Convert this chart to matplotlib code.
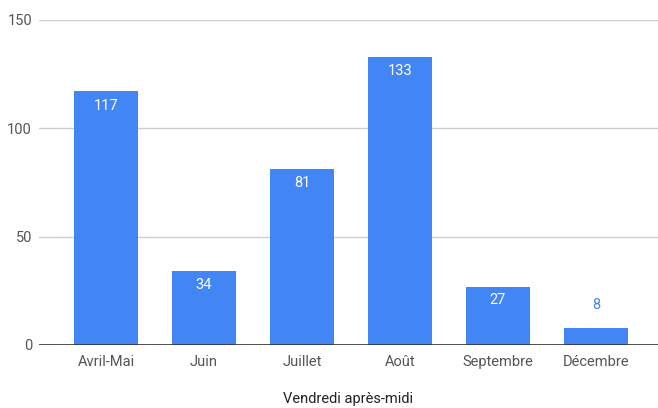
import numpy as np
import matplotlib.pyplot as plt

plt.rcParams['font.family'] = ['Roboto', 'DejaVu Sans']

# data
categories = ["Avril-Mai", "Juin", "Juillet", "Août", "Septembre", "Décembre"]
values = [117, 34, 81, 133, 27, 8]
y_ticks = [0, 50, 100, 150]
x_title = "Vendredi après-midi"

bar_color = "#4285F4"
px = 72.0 / 100  # points per pixel

fig = plt.figure(figsize=(6.58, 4.08), dpi=100)
ax = fig.add_axes([39 / 658, 63 / 408, 619 / 658, 325 / 408])

x = np.arange(len(categories))
ax.bar(x, values, width=0.655, color=bar_color, zorder=3)

for xi, v in zip(x, values):
    if v > 20:
        ax.annotate(str(v), (xi, v), xytext=(0, -14 * px), textcoords="offset points",
                    ha="center", va="center", color="white", fontsize=10.5, zorder=4)
    else:
        ax.annotate(str(v), (xi, v), xytext=(0, 23 * px), textcoords="offset points",
                    ha="center", va="center", color=bar_color, fontsize=10.5, zorder=4)

ax.set_xlim(-0.684, 5.633)
ax.set_ylim(0, 150)
ax.set_yticks(y_ticks)
ax.set_xticks(x)
ax.set_xticklabels(categories)
ax.tick_params(axis="both", length=0, colors="#555555", labelsize=10.5)
ax.tick_params(axis="x", pad=7)
ax.tick_params(axis="y", pad=5)

ax.grid(axis="y", color="#cccccc", linewidth=1, zorder=0)
ax.axhline(0, color="#333333", linewidth=1.2, zorder=5)
for s in ax.spines.values():
    s.set_visible(False)

ax.set_xlabel(x_title, fontsize=10.5, color="#222222", labelpad=17)

fig.savefig("out.png", dpi=100)
